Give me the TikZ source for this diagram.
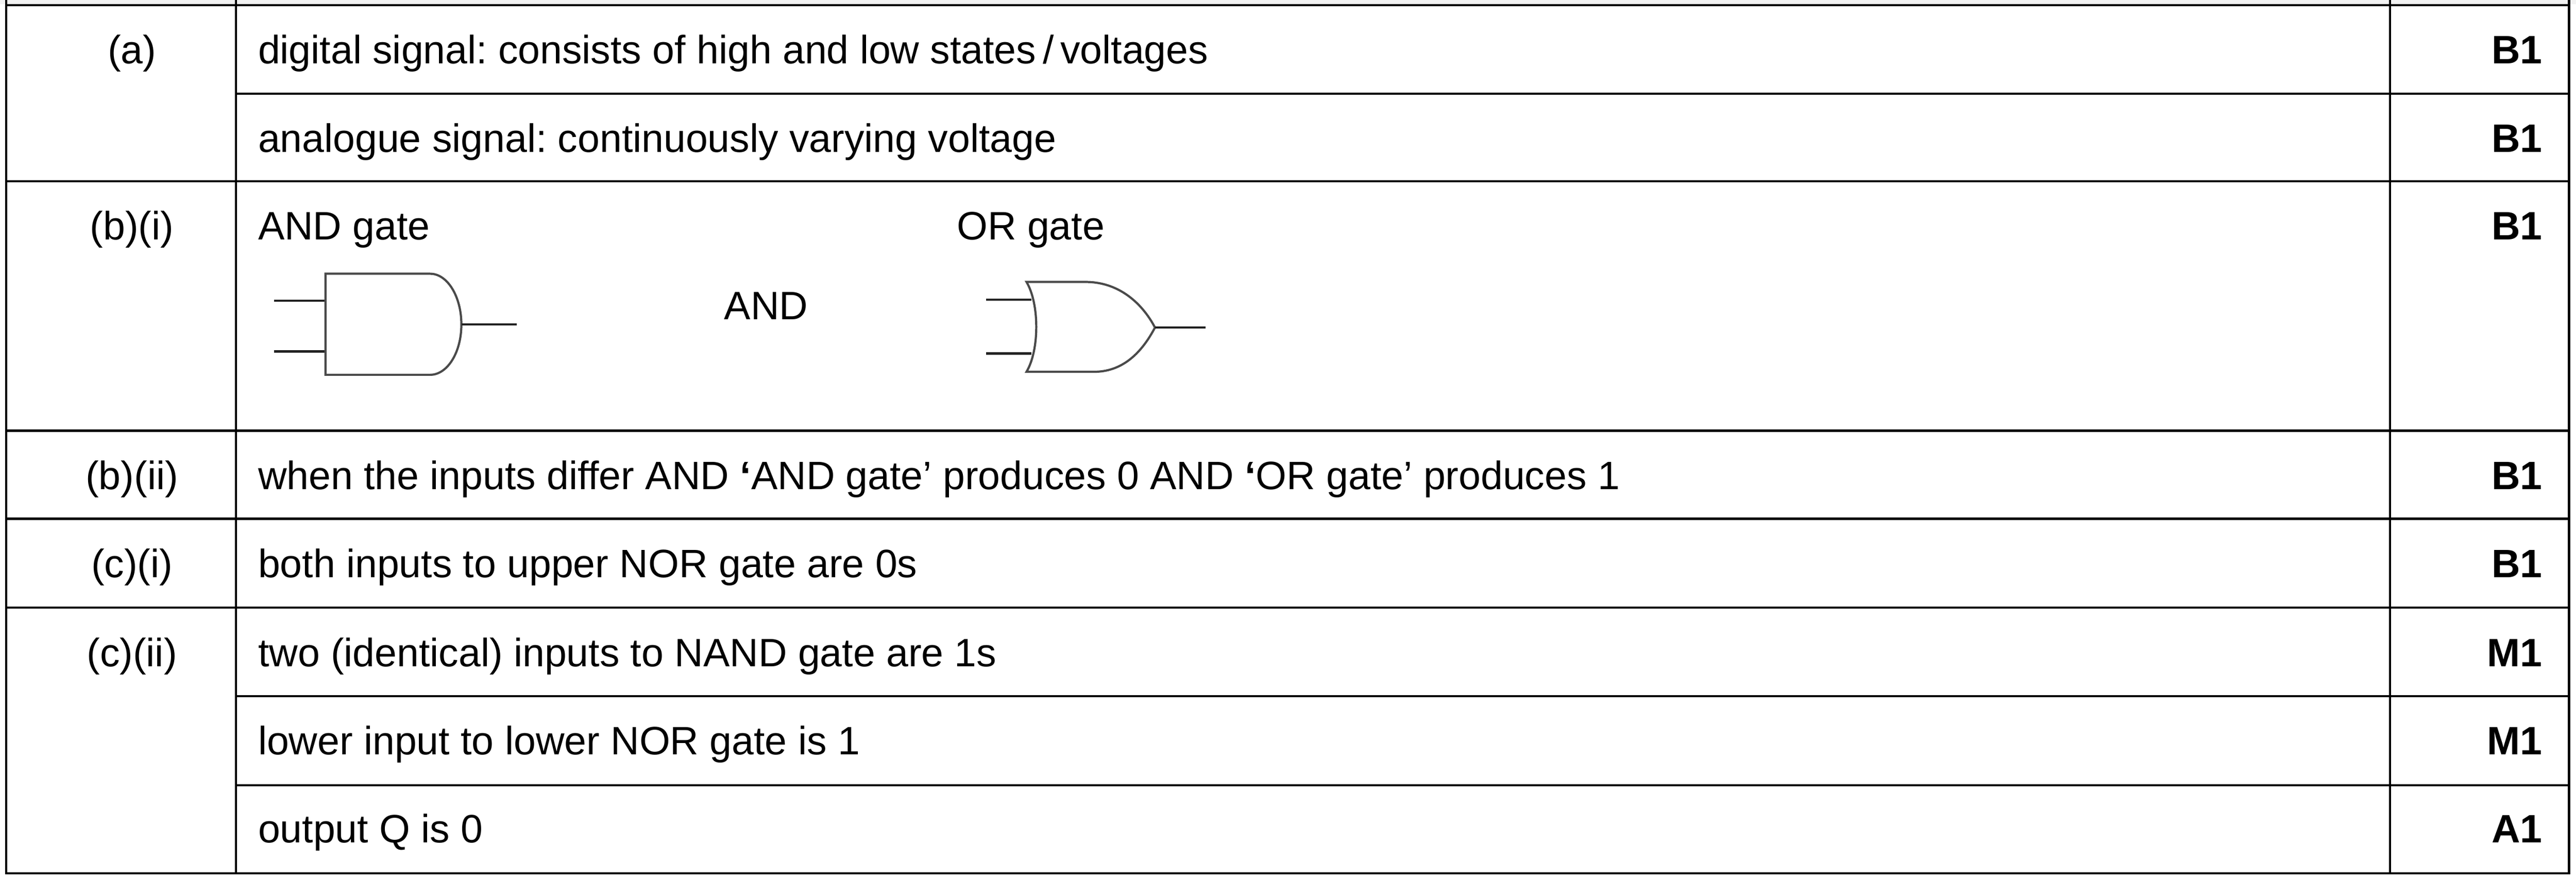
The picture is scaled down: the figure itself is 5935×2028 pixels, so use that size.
\documentclass[tikz,border=0pt]{standalone}
\usepackage{fontspec}
\setmainfont{Liberation Sans}
\frenchspacing
\definecolor{bandgray}{HTML}{F2F2F2}
\definecolor{gatebody}{HTML}{4A4A4A}
\definecolor{gatewire}{HTML}{222222}
\begin{document}
\begin{tikzpicture}[x=0.1mm,y=-0.1mm,
  rule/.style={line width=0.5mm,black},
  gbody/.style={line width=0.5mm,gatebody,line join=miter},
  gwire/.style={line width=0.55mm,gatewire},
  txt/.style={anchor=base west,inner sep=0pt,font=\fontsize{26pt}{30pt}\selectfont},
  lbl/.style={anchor=base,inner sep=0pt,font=\fontsize{26pt}{30pt}\selectfont},
  marktxt/.style={anchor=base east,inner sep=0pt,font=\fontsize{26pt}{30pt}\selectfont\bfseries}]
\useasboundingbox (0,0) rectangle (5935,2028);
\fill[white] (0,0) rectangle (5935,2028);
\fill[bandgray] (0,0) rectangle (5935,10);
% horizontal rules
\foreach \y in {11.5,418,993,1196,1401,2013}
  \draw[rule] (11.5,\y) -- (5921.5,\y);
\foreach \y in {216,1605,1810}
  \draw[rule] (544,\y) -- (5919,\y);
% vertical rules
\foreach \x in {14,544,5506,5919}
  \draw[rule] (\x,0) -- (\x,2015.5);
% column 1 labels
\node[lbl] (la) at (304,147) {(a)};
\node[lbl] (lbi) at (304,553) {(b)(i)};
\node[lbl] (lbii) at (304,1128) {(b)(ii)};
\node[lbl] (lci) at (304,1331) {(c)(i)};
\node[lbl] (lcii) at (304,1536) {(c)(ii)};
% column 2 texts
\node[txt] (t1) at (594,147) {digital signal: consists of high and low states\,/\,voltages};
\node[txt] (t2) at (594,351) {analogue signal: continuously varying voltage};
\node[txt] (t3) at (594,553) {AND gate};
\node[txt] (t3b) at (2204,553) {OR gate};
\node[txt] (t3c) at (1668,737) {AND};
\node[txt] (t4) at (594,1128) {when the inputs differ AND {\bfseries ‘}AND gate’ produces 0 AND {\bfseries ‘}OR gate’ produces 1};
\node[txt] (t5) at (594,1331) {both inputs to upper NOR gate are 0s};
\node[txt] (t6) at (594,1536) {two (identical) inputs to NAND gate are 1s};
\node[txt] (t7) at (594,1740) {lower input to lower NOR gate is 1};
\node[txt] (t8) at (594,1943) {output Q is 0};
% marks
\node[marktxt] (m1) at (5858,147) {B1};
\node[marktxt] (m2) at (5858,351) {B1};
\node[marktxt] (m3) at (5858,553) {B1};
\node[marktxt] (m4) at (5858,1128) {B1};
\node[marktxt] (m5) at (5858,1331) {B1};
\node[marktxt] (m6) at (5858,1536) {M1};
\node[marktxt] (m7) at (5858,1740) {M1};
\node[marktxt] (m8) at (5858,1943) {A1};
% AND gate symbol
\draw[gwire] (632,693) -- (750,693);
\draw[gwire] (632,810) -- (750,810);
\draw[gbody] (991,631) -- (750,631) -- (750,864) -- (991,864)
  .. controls (1031,864) and (1063,812) .. (1063,748)
  .. controls (1063,684) and (1031,631) .. (991,631) -- cycle;
\draw[gwire] (1063,748) -- (1190,748);
% OR gate symbol
\draw[gwire] (2272,691) -- (2376,691);
\draw[gwire] (2272,815) -- (2376,815);
\draw[gbody] (2365,650) -- (2506,650)
  .. controls (2580,652) and (2632,700) .. (2661,755)
  .. controls (2632,810) and (2590,855) .. (2525,857)
  -- (2365,857)
  .. controls (2395,807) and (2395,700) .. (2365,650) -- cycle;
\draw[gwire] (2661,755) -- (2778,755);
\end{tikzpicture}
\end{document}
